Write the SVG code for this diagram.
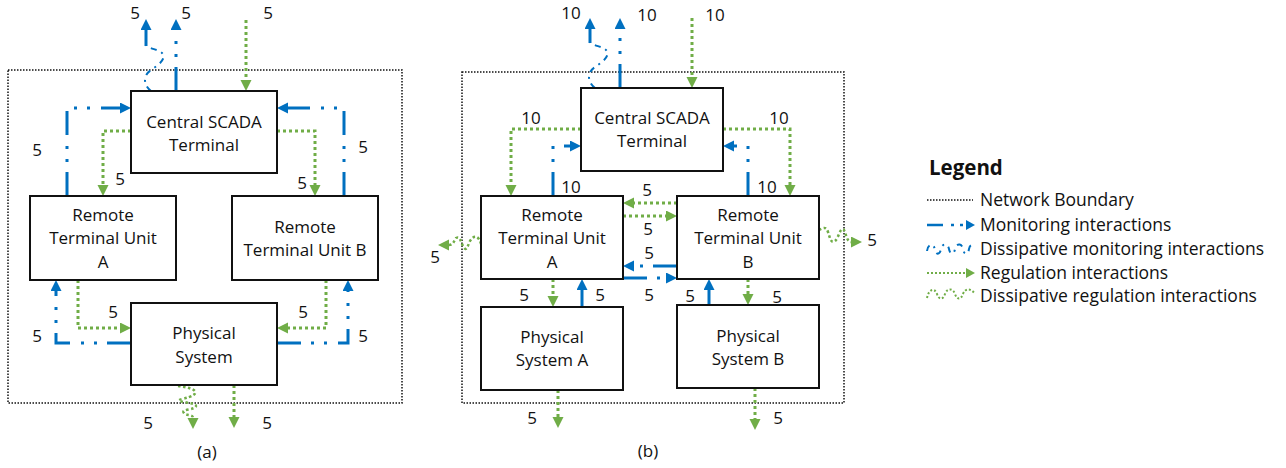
<svg xmlns="http://www.w3.org/2000/svg" width="1286" height="468" viewBox="0 0 1286 468">
<style>
text{font-family:"Open Sans","Liberation Sans",sans-serif;fill:#111}
.nt{font-size:17px;text-anchor:middle}
.lb{font-size:17px;text-anchor:middle}
.lg{font-size:17.5px}
.box{fill:#fff;stroke:#111;stroke-width:2}
.bnd{fill:none;stroke:#111;stroke-width:1.5;stroke-dasharray:1.5 1.5}
.mon{fill:none;stroke:#0070C0;stroke-width:3;stroke-dasharray:24 10 3 10 3 11;marker-end:url(#ab)}
.mons{fill:none;stroke:#0070C0;stroke-width:3;marker-end:url(#ab)}
.reg{fill:none;stroke:#70AD47;stroke-width:3;stroke-dasharray:3 3;marker-end:url(#ag)}
.dmon{fill:none;stroke:#0070C0;stroke-width:2;stroke-dasharray:6 5 2 5}
.dreg{fill:none;stroke:#70AD47;stroke-width:2.5;stroke-dasharray:2.5 2.5;marker-end:url(#ag)}
</style>
<defs>
<marker id="ab" markerUnits="userSpaceOnUse" markerWidth="12" markerHeight="12" refX="0" refY="5.5" orient="auto"><path d="M0,0 L11,5.5 L0,11 z" fill="#0070C0"/></marker>
<marker id="ag" markerUnits="userSpaceOnUse" markerWidth="12" markerHeight="12" refX="0" refY="5.5" orient="auto"><path d="M0,0 L11,5.5 L0,11 z" fill="#70AD47"/></marker>
</defs>

<g id="boundary-a"><rect class="bnd" x="8" y="70" width="394" height="333"/></g>
<g id="boundary-b"><rect class="bnd" x="462" y="72" width="382" height="331"/></g>

<g id="connectors">
<!-- (a) monitoring -->
<path class="mon" d="M67,196 V108 H120"/>
<path class="mon" d="M344,196 V108 H288"/>
<path class="mon" d="M176,91 V30"/>
<path class="mon" d="M131,343 H56 V291"/>
<path class="mon" d="M277,343 H348 V291"/>
<!-- (a) regulation -->
<path class="reg" d="M131,131 H103 V185"/>
<path class="reg" d="M277,131 H315 V185"/>
<path class="reg" d="M246,20 V80"/>
<path class="reg" d="M78,280 V328 H120"/>
<path class="reg" d="M326,280 V328 H288"/>
<path class="reg" d="M234,385 V417"/>
<!-- (a) dissipative -->
<path class="dmon" d="M151,91 C143,85 143,75 151,70 C159,65 167,58 162,53 C158,49 149,49 146,45"/>
<path class="mons" d="M146,46 V30"/>
<path class="dreg" d="M178,386 C196,388 204,394 182,399 C170,402 196,402 196,406 C196,410 180,409 184,413 C186,416 193,414 193,418"/>
<!-- (b) monitoring -->
<path class="mon" d="M620,88 V29"/>
<path class="mon" d="M553,196 V146 H570"/>
<path class="mon" d="M748,196 V146 H734"/>
<path class="mon" d="M677,266 H634"/>
<path class="mon" d="M623,278 H666"/>
<path class="mon" d="M582,307 V290"/>
<path class="mon" d="M709,305 V290"/>
<!-- (b) regulation -->
<path class="reg" d="M692,18 V77"/>
<path class="reg" d="M581,129 H511 V185"/>
<path class="reg" d="M723,129 H790 V185"/>
<path class="reg" d="M677,203 H634"/>
<path class="reg" d="M623,216 H666"/>
<path class="reg" d="M553,279 V296"/>
<path class="reg" d="M748,279 V294"/>
<path class="reg" d="M558,390 V417"/>
<path class="reg" d="M755,388 V419"/>
<!-- (b) dissipative -->
<path class="dmon" d="M595,88 C587,82 587,72 595,67 C603,62 611,55 606,50 C602,46 593,46 590,42"/>
<path class="mons" d="M590,43 V29"/>
<path class="dreg" d="M481,244 C479,236 474,234 470,241 C467,248 466,252 463,246 C460,240 460,236 456,238 C454,241 453,245 449,245"/>
<path class="dreg" d="M819,230 C823,228 826,226 828,232 C830,238 831,244 835,241 C839,238 840,226 844,230 C846,234 847,242 851,242"/>
</g>

<g id="labels">
<text class="lb" x="135" y="19">5</text>
<text class="lb" x="186" y="19">5</text>
<text class="lb" x="268" y="19">5</text>
<text class="lb" x="37" y="156">5</text>
<text class="lb" x="120" y="185">5</text>
<text class="lb" x="363" y="153">5</text>
<text class="lb" x="302" y="189">5</text>
<text class="lb" x="113" y="318">5</text>
<text class="lb" x="37" y="342">5</text>
<text class="lb" x="303" y="318">5</text>
<text class="lb" x="363" y="342">5</text>
<text class="lb" x="148" y="429">5</text>
<text class="lb" x="267" y="429">5</text>
<text class="lb" x="207" y="458">(a)</text>
<text class="lb" x="571" y="19">10</text>
<text class="lb" x="647" y="21">10</text>
<text class="lb" x="715" y="21">10</text>
<text class="lb" x="531" y="124">10</text>
<text class="lb" x="779" y="124">10</text>
<text class="lb" x="571" y="193">10</text>
<text class="lb" x="767" y="193">10</text>
<text class="lb" x="647" y="196">5</text>
<text class="lb" x="648" y="235">5</text>
<text class="lb" x="649" y="259">5</text>
<text class="lb" x="649" y="301">5</text>
<text class="lb" x="524" y="301">5</text>
<text class="lb" x="600" y="301">5</text>
<text class="lb" x="690" y="302">5</text>
<text class="lb" x="777" y="303">5</text>
<text class="lb" x="532" y="424">5</text>
<text class="lb" x="778" y="424">5</text>
<text class="lb" x="435" y="263">5</text>
<text class="lb" x="872" y="246">5</text>
<text class="lb" x="648" y="457">(b)</text>
</g>

<g id="a-scada"><rect class="box" x="131" y="91" width="146" height="82"/><text class="nt" x="204" y="128">Central SCADA</text><text class="nt" x="204" y="151">Terminal</text></g>
<g id="a-rtu-a"><rect class="box" x="30" y="196" width="146" height="84"/><text class="nt" x="103" y="221">Remote</text><text class="nt" x="103" y="244">Terminal Unit</text><text class="nt" x="103" y="268">A</text></g>
<g id="a-rtu-b"><rect class="box" x="232" y="196" width="146" height="84"/><text class="nt" x="305" y="233">Remote</text><text class="nt" x="305" y="256">Terminal Unit B</text></g>
<g id="a-physical"><rect class="box" x="131" y="303" width="146" height="82"/><text class="nt" x="204" y="339">Physical</text><text class="nt" x="204" y="363">System</text></g>

<g id="b-scada"><rect class="box" x="581" y="88" width="142" height="83"/><text class="nt" x="652" y="124">Central SCADA</text><text class="nt" x="652" y="147">Terminal</text></g>
<g id="b-rtu-a"><rect class="box" x="481" y="196" width="142" height="83"/><text class="nt" x="552" y="221">Remote</text><text class="nt" x="552" y="244">Terminal Unit</text><text class="nt" x="552" y="268">A</text></g>
<g id="b-rtu-b"><rect class="box" x="677" y="196" width="142" height="83"/><text class="nt" x="748" y="221">Remote</text><text class="nt" x="748" y="244">Terminal Unit</text><text class="nt" x="748" y="268">B</text></g>
<g id="b-physical-a"><rect class="box" x="481" y="307" width="142" height="83"/><text class="nt" x="552" y="343">Physical</text><text class="nt" x="552" y="366">System A</text></g>
<g id="b-physical-b"><rect class="box" x="677" y="305" width="142" height="83"/><text class="nt" x="748" y="342">Physical</text><text class="nt" x="748" y="365">System B</text></g>

<g id="legend">
<text x="929" y="175" style="font-size:20.5px;font-weight:bold">Legend</text>
<line class="bnd" x1="927" y1="200" x2="973" y2="200"/>
<text class="lg" x="980" y="206">Network Boundary</text>
<path fill="none" stroke="#0070C0" stroke-width="2.5" stroke-dasharray="16 8 3 6 3 40" d="M927,225 H966"/>
<path d="M966,220 L975,225 L966,230 z" fill="#0070C0"/>
<text class="lg" x="980" y="231">Monitoring interactions</text>
<path class="dmon" d="M927,251 C928,243 934,243 935,250 C936,255 940,255 941,249 C942,243 948,243 949,249 C950,255 954,255 955,249 C956,243 962,243 963,249 C964,255 968,255 969,249 C970,244 973,244 974,248"/>
<text class="lg" x="980" y="255">Dissipative  monitoring interactions</text>
<path fill="none" stroke="#70AD47" stroke-width="2" stroke-dasharray="2 2" d="M927,273 H966"/>
<path d="M966,268 L975,273 L966,278 z" fill="#70AD47"/>
<text class="lg" x="980" y="279">Regulation interactions</text>
<path fill="none" stroke="#70AD47" stroke-width="2" stroke-dasharray="2 2" d="M927,298 C929,288 935,288 937,294 C939,300 943,300 945,294 C947,288 953,288 955,294 C957,300 961,300 963,294 C965,288 971,288 975,294"/>
<text class="lg" x="980" y="302">Dissipative regulation interactions</text>
</g>
</svg>
